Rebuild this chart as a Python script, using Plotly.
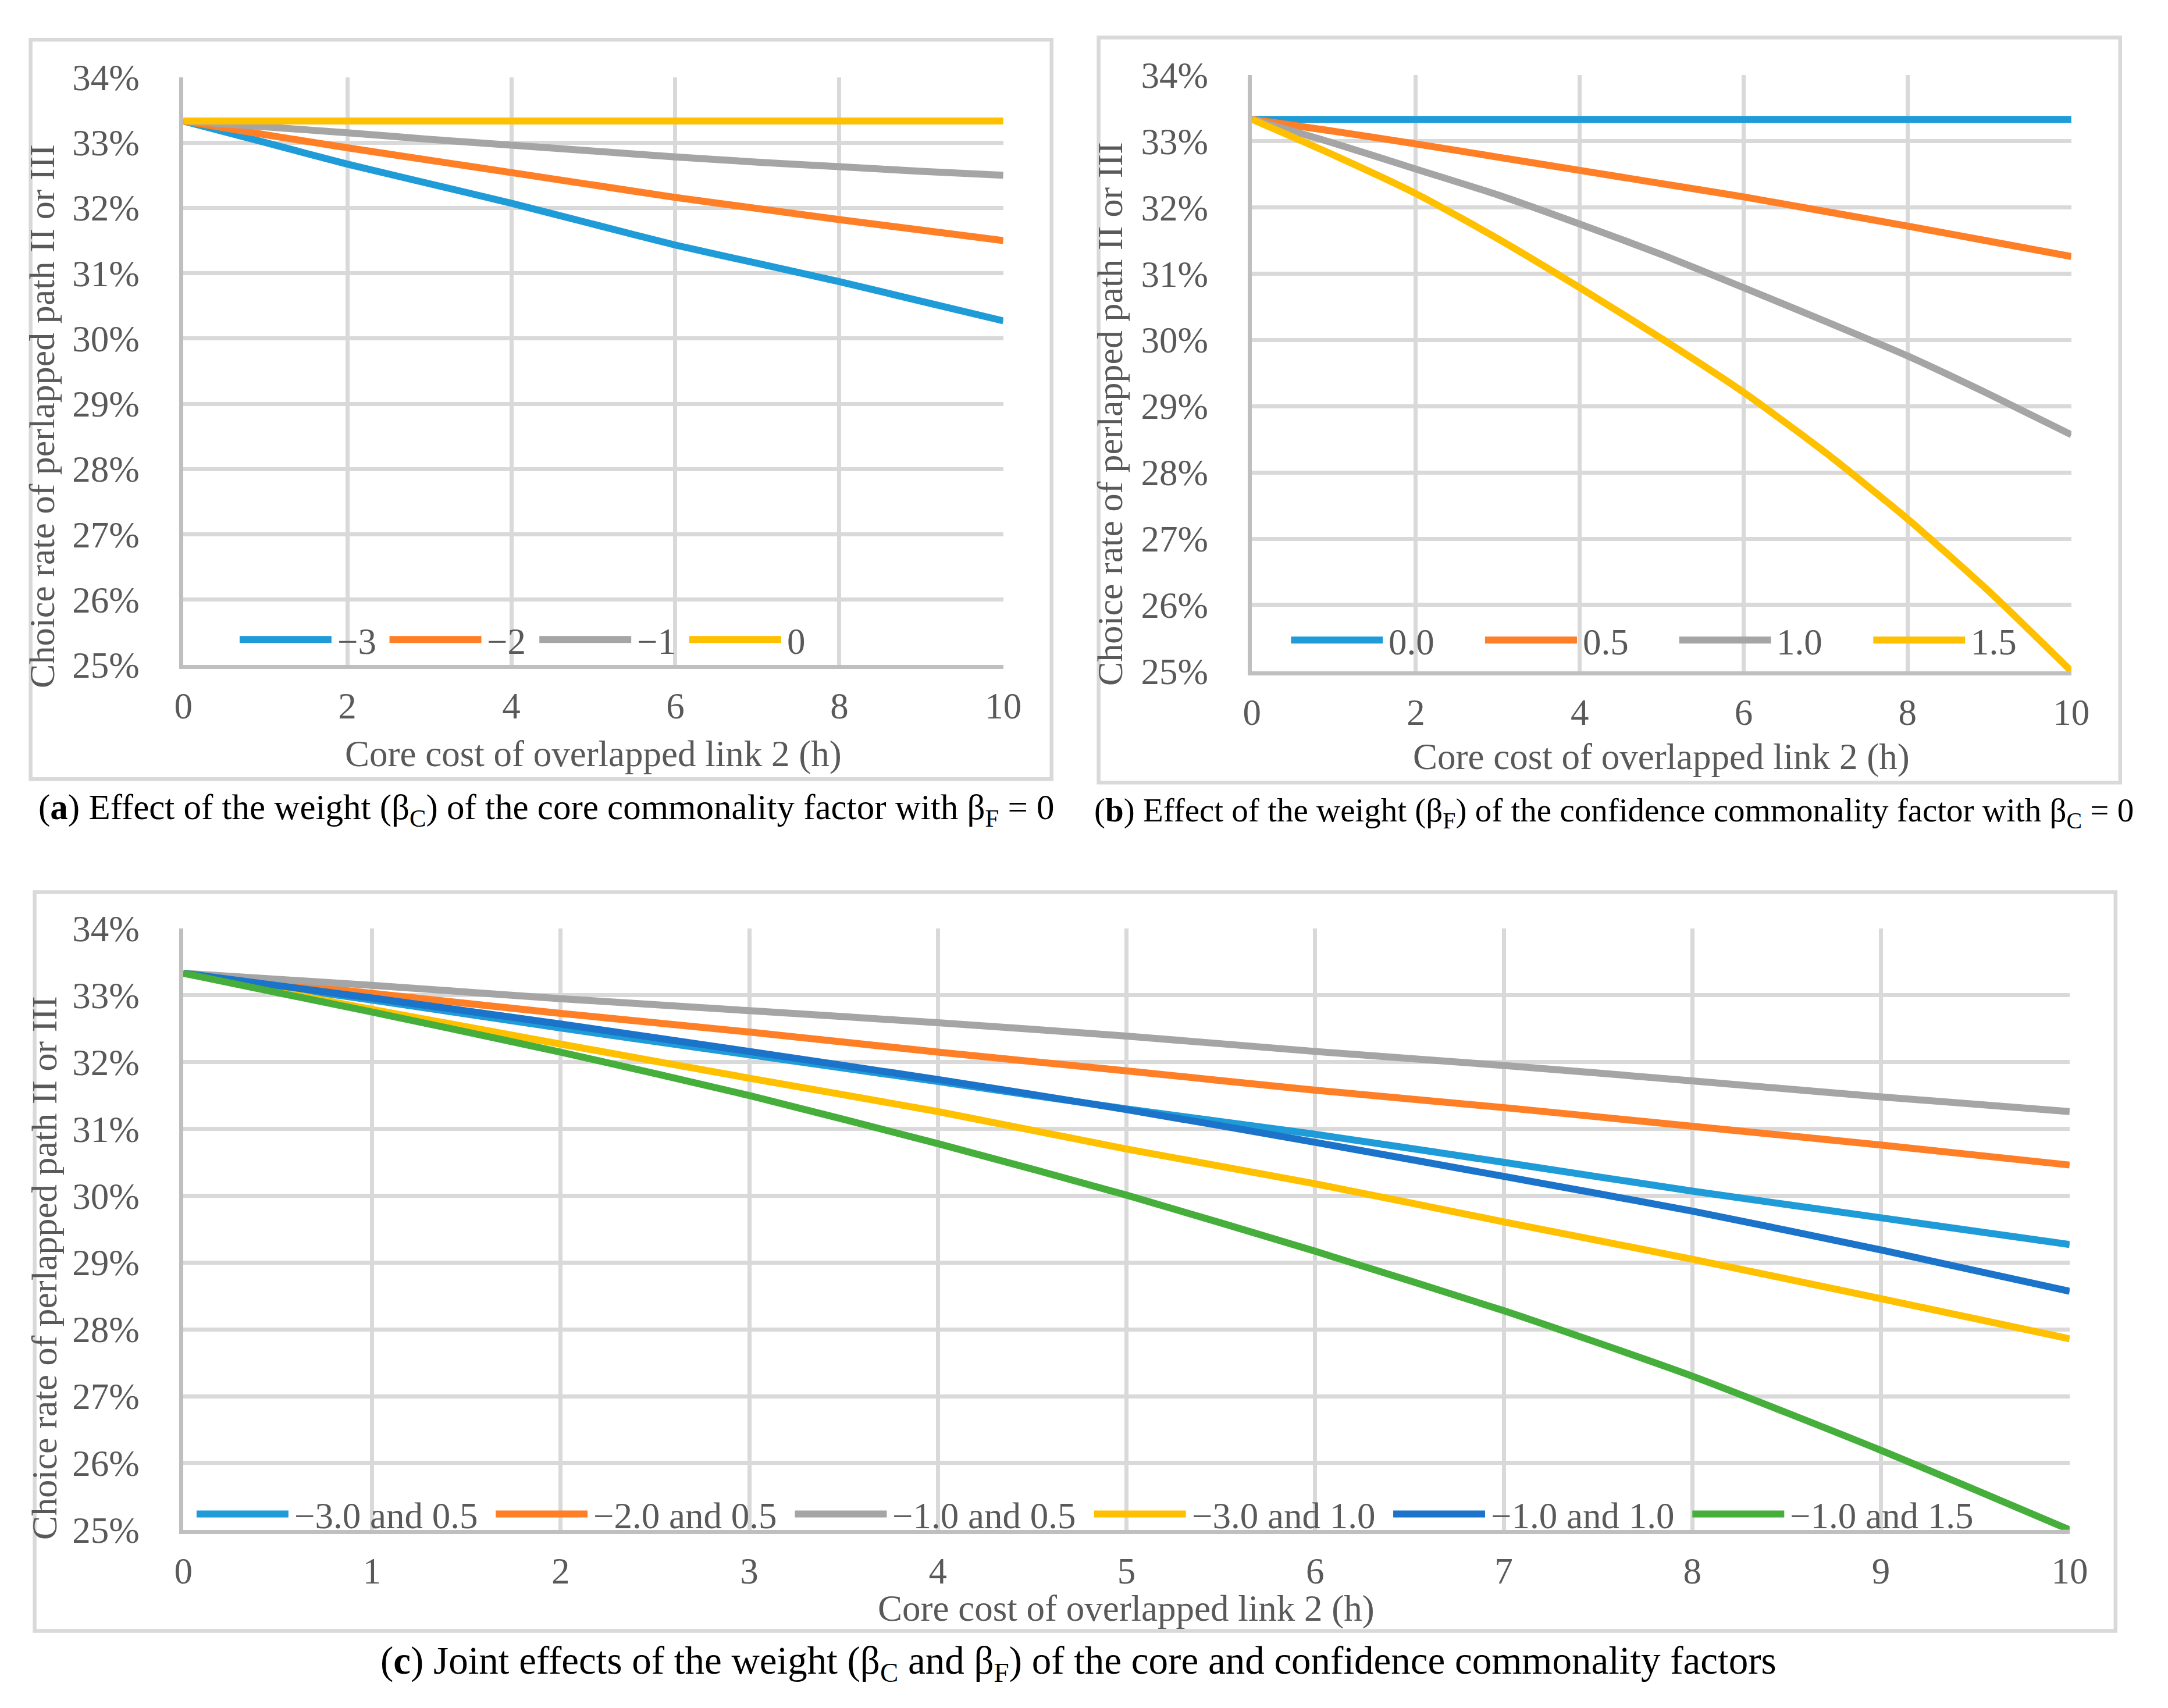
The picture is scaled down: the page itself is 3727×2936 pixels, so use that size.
import plotly.graph_objects as go

W, H = 3727, 2936

# data (choice rate in %)
cost = [0, 1, 2, 3, 4, 5, 6, 7, 8, 9, 10]

a_names = ["\u22123", "\u22122", "\u22121", "0"]
a_m3 = [33.33, 33.00, 32.67, 32.37, 32.07, 31.75, 31.43, 31.15, 30.87, 30.57, 30.27]
a_m2 = [33.33, 33.12, 32.92, 32.73, 32.54, 32.35, 32.16, 31.99, 31.82, 31.66, 31.50]
a_m1 = [33.33, 33.24, 33.15, 33.05, 32.96, 32.87, 32.78, 32.70, 32.63, 32.56, 32.50]
a_0 = [33.33, 33.33, 33.33, 33.33, 33.33, 33.33, 33.33, 33.33, 33.33, 33.33, 33.33]

b_names = ["0.0", "0.5", "1.0", "1.5"]
b_00 = [33.33, 33.33, 33.33, 33.33, 33.33, 33.33, 33.33, 33.33, 33.33, 33.33, 33.33]
b_05 = [33.33, 33.15, 32.96, 32.76, 32.56, 32.36, 32.16, 31.94, 31.72, 31.49, 31.26]
b_10 = [33.33, 32.97, 32.58, 32.19, 31.75, 31.29, 30.79, 30.28, 29.76, 29.18, 28.57]
b_15 = [33.33, 32.79, 32.21, 31.53, 30.79, 30.02, 29.21, 28.30, 27.30, 26.20, 25.00]

c_names = ["\u22123.0 and 0.5", "\u22122.0 and 0.5", "\u22121.0 and 0.5",
           "\u22123.0 and 1.0", "\u22121.0 and 1.0", "\u22121.0 and 1.5"]
c_1 = [33.33, 32.93, 32.51, 32.11, 31.71, 31.30, 30.92, 30.50, 30.07, 29.67, 29.27]
c_2 = [33.33, 33.03, 32.73, 32.45, 32.15, 31.87, 31.58, 31.32, 31.04, 30.76, 30.46]
c_3 = [33.33, 33.15, 32.95, 32.77, 32.59, 32.39, 32.16, 31.95, 31.72, 31.48, 31.26]
c_4 = [33.33, 32.79, 32.27, 31.76, 31.26, 30.70, 30.18, 29.61, 29.05, 28.46, 27.86]
c_5 = [33.33, 32.96, 32.57, 32.16, 31.74, 31.29, 30.80, 30.29, 29.77, 29.19, 28.57]
c_6 = [33.33, 32.75, 32.15, 31.50, 30.78, 30.01, 29.17, 28.28, 27.30, 26.19, 25.00]

y_ticks = [25, 26, 27, 28, 29, 30, 31, 32, 33, 34]
y_labels = ["25%", "26%", "27%", "28%", "29%", "30%", "31%", "32%", "33%", "34%"]

BLUE = "#1F9CD8"
ORANGE = "#FF7F27"
GRAY = "#A5A5A5"
YELLOW = "#FFC000"
DBLUE = "#1B74C9"
GREEN = "#46AF3C"
GRID = "#D9D9D9"
AXIS = "#BFBFBF"
TXT = "#595959"
FONT = "Liberation Serif"


def px(p):
    return p / W


def py(p):
    return 1 - p / H


fig = go.Figure()

panels = [
    ("x", "y", [a_m3, a_m2, a_m1, a_0], a_names, [BLUE, ORANGE, GRAY, YELLOW]),
    ("x2", "y2", [b_00, b_05, b_10, b_15], b_names, [BLUE, ORANGE, GRAY, YELLOW]),
    ("x3", "y3", [c_1, c_2, c_3, c_4, c_5, c_6], c_names,
     [BLUE, ORANGE, GRAY, YELLOW, DBLUE, GREEN]),
]
for xa, ya, series, names, colors in panels:
    for vals, nm, col in zip(series, names, colors):
        fig.add_trace(go.Scatter(x=cost, y=vals, name=nm, mode="lines",
                                 line=dict(color=col, width=12, shape="spline", smoothing=0.6),
                                 xaxis=xa, yaxis=ya, showlegend=False))

tickfont = dict(family=FONT, size=63, color=TXT)


def xaxis_def(dom, dtick, anchor):
    return dict(domain=dom, range=[0, 10], dtick=dtick, showgrid=True, gridcolor=GRID,
                gridwidth=6.5, showline=True, linecolor=AXIS, linewidth=6.5,
                zeroline=False, ticks="", tickfont=tickfont, ticklabelstandoff=10,
                anchor=anchor, fixedrange=True)


def yaxis_def(dom, anchor):
    return dict(domain=dom, range=[25, 34], tickmode="array", tickvals=y_ticks,
                ticktext=y_labels, showgrid=True, gridcolor=GRID, gridwidth=6.5,
                showline=True, linecolor=AXIS, linewidth=6.5, zeroline=False, ticks="",
                tickfont=tickfont, ticklabelstandoff=56, anchor=anchor, fixedrange=True)


shapes = []
annotations = []

# panel frames
for x0, y0, x1, y1 in [(29, 27, 1807, 1329), (1889, 23, 3668, 1335), (36, 1528, 3660, 2829)]:
    shapes.append(dict(type="rect", xref="paper", yref="paper", x0=px(x0), x1=px(x1),
                       y0=py(y0), y1=py(y1), line=dict(color=GRID, width=6.5),
                       fillcolor="rgba(0,0,0,0)", layer="below"))

# hand-drawn legends (long Excel-style line keys)
legends = [
    (a_names, [BLUE, ORANGE, GRAY, YELLOW], [393, 654, 915, 1176], 1083),
    (b_names, [BLUE, ORANGE, GRAY, YELLOW], [2224, 2562, 2900, 3238], 1084),
    (c_names, [BLUE, ORANGE, GRAY, YELLOW, DBLUE, GREEN],
     [318, 839, 1360, 1881, 2402, 2923], 2623),
]
for names, colors, starts, yl in legends:
    for nm, col, s in zip(names, colors, starts):
        shapes.append(dict(type="line", xref="paper", yref="paper", x0=px(s), x1=px(s + 160),
                           y0=py(yl), y1=py(yl), line=dict(color=col, width=12)))
        annotations.append(dict(text=nm, xref="paper", yref="paper", x=px(s + 168), y=py(yl + 4),
                                xanchor="left", yanchor="middle", showarrow=False,
                                font=dict(family=FONT, size=63, color=TXT)))

# axis titles
xt = "Core cost of overlapped link 2 (h)"
yt = "Choice rate of perlapped path II or III"
for cx, cy in [(1009, 1285), (2869, 1290), (1937, 2790)]:
    annotations.append(dict(text=xt, xref="paper", yref="paper", x=px(cx), y=py(cy),
                            xanchor="center", yanchor="middle", showarrow=False,
                            font=dict(family=FONT, size=63, color=TXT)))
for cx, cy in [(48, 690), (1908, 686), (52, 2190)]:
    annotations.append(dict(text=yt, xref="paper", yref="paper", x=px(cx), y=py(cy),
                            xanchor="center", yanchor="middle", showarrow=False, textangle=-90,
                            font=dict(family=FONT, size=62, color=TXT)))

# captions
caps = [
    ("(<b>a</b>) Effect of the weight (\u03b2<sub>C</sub>) of the core commonality factor with \u03b2<sub>F</sub> = 0",
     927, 1383, 61),
    ("(<b>b</b>) Effect of the weight (\u03b2<sub>F</sub>) of the confidence commonality factor with \u03b2<sub>C</sub> = 0",
     2786, 1388, 57),
    ("(<b>c</b>) Joint effects of the weight (\u03b2<sub>C</sub> and \u03b2<sub>F</sub>) of the core and confidence commonality factors",
     1854, 2886, 67),
]
for t, cx, cy, fs in caps:
    annotations.append(dict(text=t, xref="paper", yref="paper", x=px(cx), y=py(cy),
                            xanchor="center", yanchor="middle", showarrow=False,
                            font=dict(family=FONT, size=fs, color="#000000")))

fig.update_layout(
    width=W, height=H, autosize=False,
    margin=dict(l=0, r=0, t=0, b=0),
    paper_bgcolor="white", plot_bgcolor="white",
    xaxis=xaxis_def([px(295), px(1723)], 2, "y"),
    yaxis=yaxis_def([py(1128), py(93)], "x"),
    xaxis2=xaxis_def([px(2156), px(3583)], 2, "y2"),
    yaxis2=yaxis_def([py(1139), py(89)], "x2"),
    xaxis3=xaxis_def([px(295), px(3580)], 1, "y3"),
    yaxis3=yaxis_def([py(2651), py(1592)], "x3"),
    shapes=shapes,
    annotations=annotations,
    showlegend=False,
)

fig.write_html("out.html")
